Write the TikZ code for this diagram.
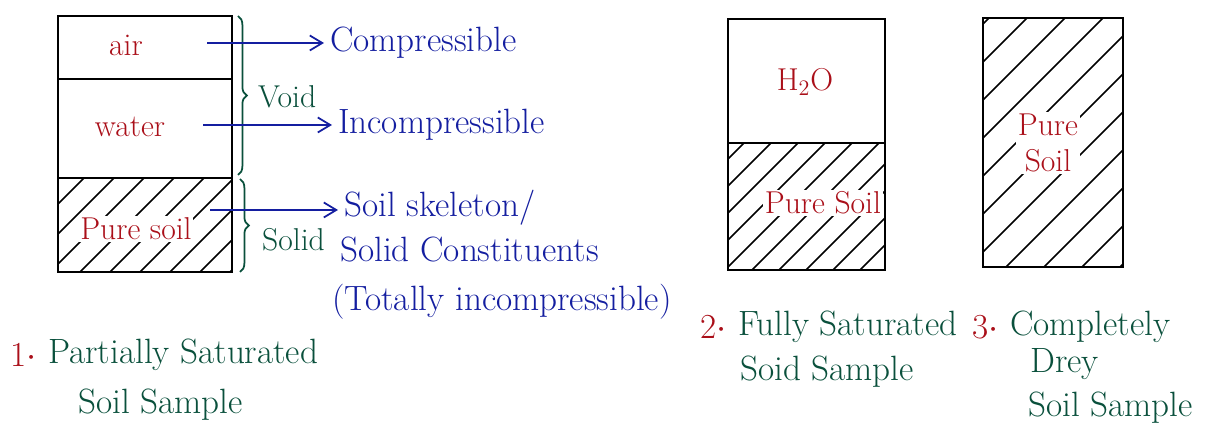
\documentclass[tikz,border=0pt]{standalone}
\usetikzlibrary{arrows.meta}
\usetikzlibrary{decorations.pathreplacing}
\usetikzlibrary{positioning}

\definecolor{inkred}{RGB}{170,15,25}
\definecolor{inkblue}{RGB}{20,30,160}
\definecolor{inkgreen}{RGB}{10,80,60}

\begin{document}
\begin{tikzpicture}[
    x=0.02cm, y=-0.02cm,
    box/.style={line width=1.4pt},
    hatch/.style={line width=1pt},
    phase/.style={text=inkred, font=\fontsize{18}{21}\selectfont},
    prop/.style={text=inkblue, anchor=west, font=\fontsize{20}{24}\selectfont},
    part/.style={text=inkgreen, anchor=west, font=\fontsize{18}{21}\selectfont},
    caption/.style={text=inkgreen, anchor=west, font=\fontsize{20}{24}\selectfont},
    num/.style={text=inkred, inner sep=0pt, font=\fontsize{20}{24}\selectfont},
    curly/.style={draw=inkgreen, line width=1pt, decorate, decoration={brace, amplitude=5pt}},
    >={Straight Barb[length=2.5mm, width=3mm]}
]
\useasboundingbox (0,0) rectangle (1215,438);

% --- Sample 1: partially saturated ---
\begin{scope}
    \clip (58,178) rectangle (232,272);
    \foreach \k in {0,...,9}
        \draw[hatch] ({-40+\k*30},272) -- ++(130,-130);
\end{scope}
\draw[box] (58,16) rectangle (232,272);
\draw[box] (58,79) -- (232,79);
\draw[box] (58,178) -- (232,178);

\node[phase] (air) at (126,45) {air};
\node[phase] (water) at (130,127) {water};
\node[phase, fill=white, inner sep=1pt] (soil1) at (136,229) {Pure soil};

% --- Braces ---
\draw[curly] (238,16) -- (238,175);
\draw[curly] (240,179) -- (240,272);
\node[part] (void) at (252,97) {Void};
\node[part] (solid) at (256,240) {Solid};

% --- Properties ---
\node[prop] (comp) at (324,43) {Compressible};
\node[prop] (incomp) at (332,125) {Incompressible};
\node[prop] (skel) at (338,208) {Soil skeleton/};
\node[prop] (const) at (334,250) {Solid Constituents};
\node[prop] (total) at (326,302) {(Totally incompressible)};

\coordinate (a1) at (207,43);
\coordinate (a2) at (203,125);
\coordinate (a3) at (210,210);
\draw[->, inkblue, line width=1pt] (a1) -- (comp.west);
\draw[->, inkblue, line width=1pt] (a2) -- (incomp.west);
\draw[->, inkblue, line width=1pt] (a3) -- (skel.west |- a3);

% --- Caption 1 ---
\node[caption] (c1a) at (42,355) {Partially Saturated};
\node[caption] (c1b) at (72,405) {Soil Sample};
\node[num, left=3pt of c1a] (n1) {1$\cdot$};

% --- Sample 2: fully saturated ---
\begin{scope}
    \clip (728,143) rectangle (885,270);
    \foreach \k in {0,...,11}
        \draw[hatch] ({590+\k*27},270) -- ++(160,-160);
\end{scope}
\draw[box] (728,19) rectangle (885,270);
\draw[box] (728,143) -- (885,143);

\node[phase] (h2o) at (805,82) {H\textsubscript{2}O};
\node[phase, fill=white, inner sep=1pt] (soil2) at (823,203) {Pure Soil};

% --- Caption 2 ---
\node[caption] (c2a) at (732,327) {Fully Saturated};
\node[caption] (c2b) at (734,372) {Soid Sample};
\node[num, left=3pt of c2a] (n2) {2$\cdot$};

% --- Sample 3: completely dry ---
\begin{scope}
    \clip (983,18) rectangle (1123,267);
    \foreach \k in {0,...,10}
        \draw[hatch] ({740+\k*38},267) -- ++(260,-260);
\end{scope}
\draw[box] (983,18) rectangle (1123,267);

\node[phase, fill=white, inner sep=1pt, align=center] (soil3) at (1048,143) {Pure\\Soil};

% --- Caption 3 ---
\node[caption] (c3a) at (1004,327) {Completely};
\node[caption] (c3b) at (1024,364) {Drey};
\node[caption] (c3c) at (1022,408) {Soil Sample};
\node[num, left=3pt of c3a] (n3) {3$\cdot$};

\end{tikzpicture}
\end{document}
